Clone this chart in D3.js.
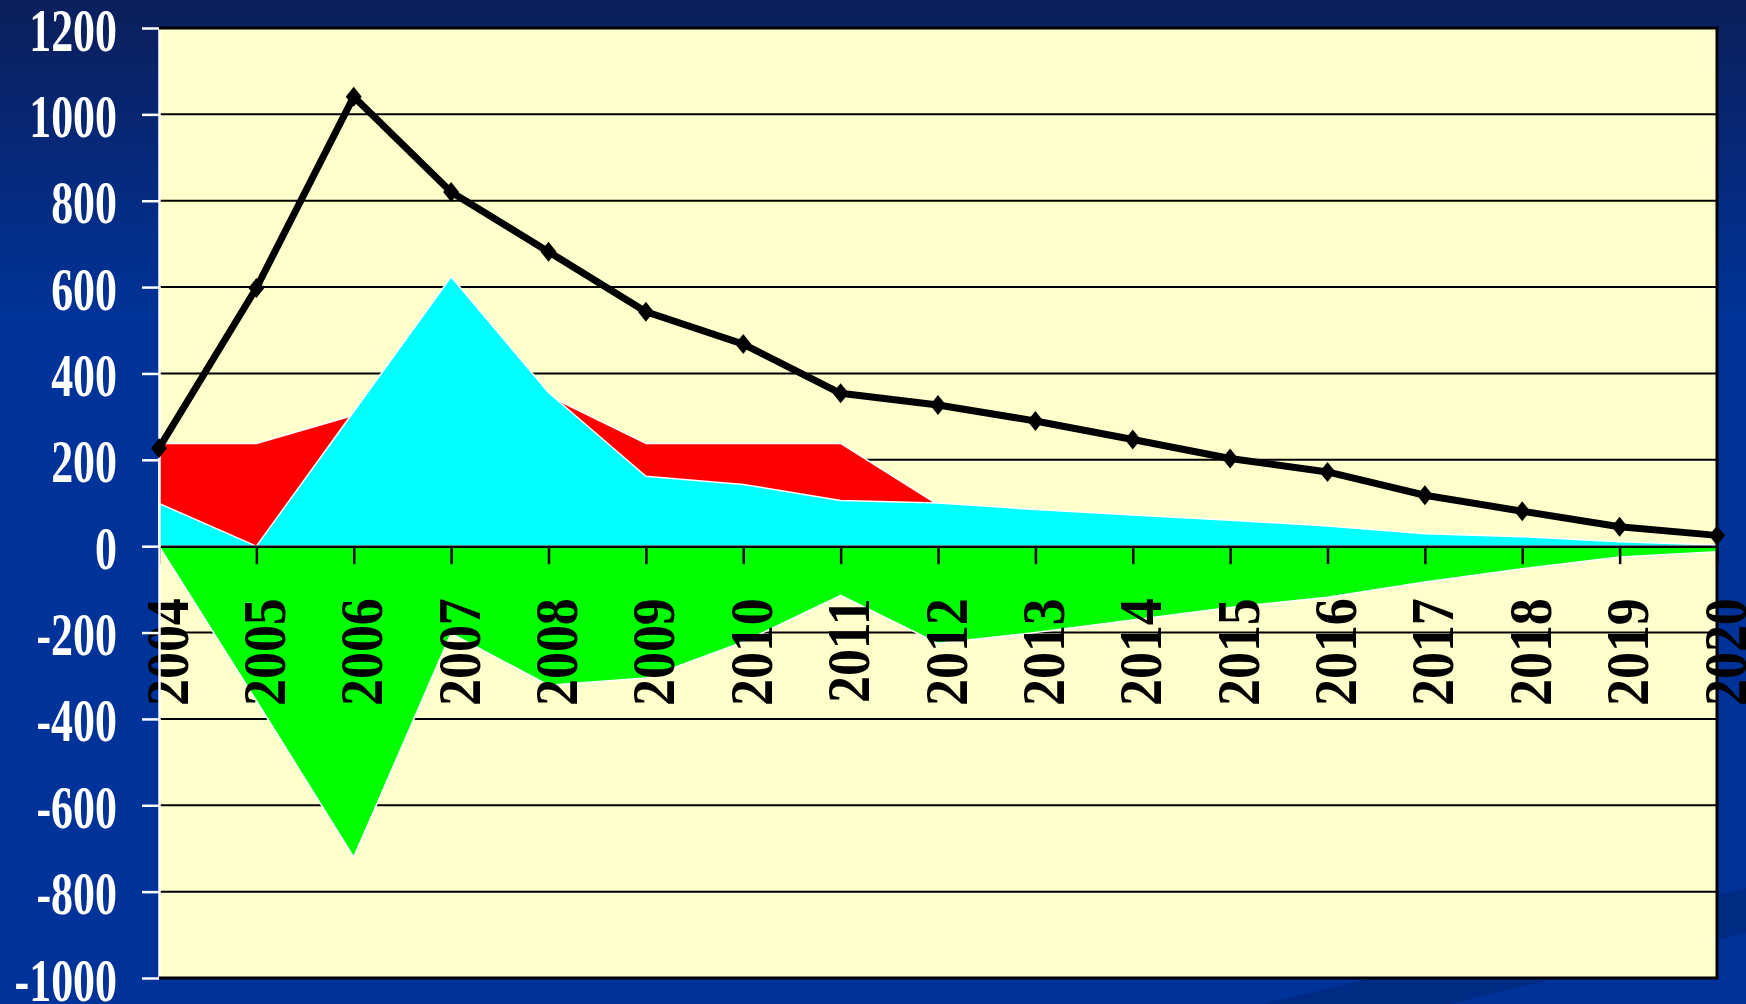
<!DOCTYPE html>
<html>
<head>
<meta charset="utf-8">
<script src="https://cdnjs.cloudflare.com/ajax/libs/d3/7.8.5/d3.min.js"></script>
<style>
  body { margin: 0; background: #003399; overflow: hidden; }
  svg { display: block; }
  .lbl { font-family: "Liberation Serif", "Times New Roman", serif; font-weight: bold; }
</style>
</head>
<body>
<svg id="chart" width="1746" height="1004"></svg>
<script>
// values
var years = ["2004","2005","2006","2007","2008","2009","2010","2011","2012",
             "2013","2014","2015","2016","2017","2018","2019","2020"];
var totalLine = [227, 598, 1041, 820, 682, 543, 468, 354, 327, 290, 247, 203, 172, 118, 81, 45, 25];
var redArea   = [238, 238, 303, 300, 348, 238, 238, 238, 96, 0, 0, 0, 0, 0, 0, 0, 0];
var cyanArea  = [99, 0, 312, 624, 356, 162, 143, 106, 100, 85, 72, 60, 47, 29, 22, 10, 3];
var greenArea = [0, -358, -720, -202, -322, -305, -222, -114, -225, -200, -171, -142, -118, -83, -52, -25, -13];
var yTicks = [-1000, -800, -600, -400, -200, 0, 200, 400, 600, 800, 1000, 1200];

var W = 1746, H = 1004,
    margins = {top: 28, right: 29, bottom: 26, left: 159},
    plotL = margins.left, plotR = W - margins.right,
    plotT = margins.top, plotB = H - margins.bottom;

var svg = d3.select("#chart");

// background
var defs = svg.append("defs");
var grad = defs.append("linearGradient").attr("id", "bg")
    .attr("x1", 0).attr("y1", 0).attr("x2", 0).attr("y2", 1);
grad.append("stop").attr("offset", "0%").attr("stop-color", "#0b1f5b");
grad.append("stop").attr("offset", "32%").attr("stop-color", "#003399");
grad.append("stop").attr("offset", "100%").attr("stop-color", "#003399");
svg.append("rect").attr("width", W).attr("height", H).attr("fill", "url(#bg)");
svg.append("path")
    .attr("d", "M1746,888L1746,933L1450,1004L1263,1004Z")
    .attr("fill", "#002b85");

var x = d3.scalePoint().domain(years).range([plotL, plotR]);
var y = d3.scaleLinear().domain([-1000, 1200]).range([plotB, plotT]);

// plot area
svg.append("rect")
    .attr("x", plotL).attr("y", plotT)
    .attr("width", plotR - plotL).attr("height", plotB - plotT)
    .attr("fill", "#ffffcc");

svg.append("g").selectAll("line")
    .data(yTicks.filter(function(d) { return d !== 0 && d !== 1200 && d !== -1000; }))
    .enter().append("line")
    .attr("x1", plotL).attr("x2", plotR)
    .attr("y1", function(d) { return y(d); })
    .attr("y2", function(d) { return y(d); })
    .attr("stroke", "#000").attr("stroke-width", 2);

function area(vals) {
    return d3.area()
        .x(function(d, i) { return x(years[i]); })
        .y0(y(0))
        .y1(function(d) { return y(d); })(vals);
}

[[redArea, "#ff0000"], [cyanArea, "#00ffff"], [greenArea, "#00ff00"]].forEach(function(s) {
    svg.append("path")
        .attr("d", area(s[0]))
        .attr("fill", s[1])
        .attr("stroke", "#fff")
        .attr("stroke-width", 1.5)
        .attr("stroke-linejoin", "round");
});

// x axis at zero
var xAxis = d3.axisBottom(x).tickSize(18).tickSizeOuter(0);
var gx = svg.append("g")
    .attr("class", "x axis")
    .attr("transform", "translate(0," + y(0) + ")")
    .call(xAxis);
gx.select(".domain").attr("stroke", "#000").attr("stroke-width", 2.5);
gx.selectAll(".tick line").attr("stroke", "#000").attr("stroke-width", 2.5);
gx.selectAll(".tick text")
    .attr("class", "lbl")
    .attr("x", 0).attr("y", 0).attr("dy", null)
    .attr("text-anchor", "end")
    .attr("fill", "#000")
    .attr("font-size", 62)
    .attr("transform", "translate(28,52) rotate(-90) scale(0.87,1)");

// y axis
var yAxis = d3.axisLeft(y).tickValues(yTicks).tickSize(17).tickSizeOuter(0)
    .tickFormat(d3.format("d"));
var gy = svg.append("g")
    .attr("class", "y axis")
    .attr("transform", "translate(" + plotL + ",0)")
    .call(yAxis);
gy.select(".domain").attr("stroke", "#fff").attr("stroke-width", 2.5);
gy.selectAll(".tick line").attr("stroke", "#fff").attr("stroke-width", 2.5);
gy.selectAll(".tick text")
    .attr("class", "lbl")
    .attr("x", 0).attr("y", 0).attr("dy", null)
    .attr("text-anchor", "end")
    .attr("fill", "#fff")
    .attr("font-size", 61)
    .attr("transform", "translate(-42,22) scale(0.72,1)")
    .text(function(d) { return d < 0 ? "-" + Math.abs(d) : d; });

// border top / right / bottom
svg.append("path")
    .attr("d", "M" + plotL + "," + plotT + "H" + plotR + "V" + plotB + "H" + plotL)
    .attr("fill", "none").attr("stroke", "#000").attr("stroke-width", 3);

// total line with diamond markers
var line = d3.line()
    .x(function(d, i) { return x(years[i]); })
    .y(function(d) { return y(d); });
svg.append("path")
    .attr("d", line(totalLine))
    .attr("fill", "none").attr("stroke", "#000")
    .attr("stroke-width", 7).attr("stroke-linejoin", "round");

svg.append("g").selectAll("path")
    .data(totalLine)
    .enter().append("path")
    .attr("transform", function(d, i) { return "translate(" + x(years[i]) + "," + y(d) + ")"; })
    .attr("d", "M0,-10L8,0L0,10L-8,0Z")
    .attr("fill", "#000");
</script>
</body>
</html>
